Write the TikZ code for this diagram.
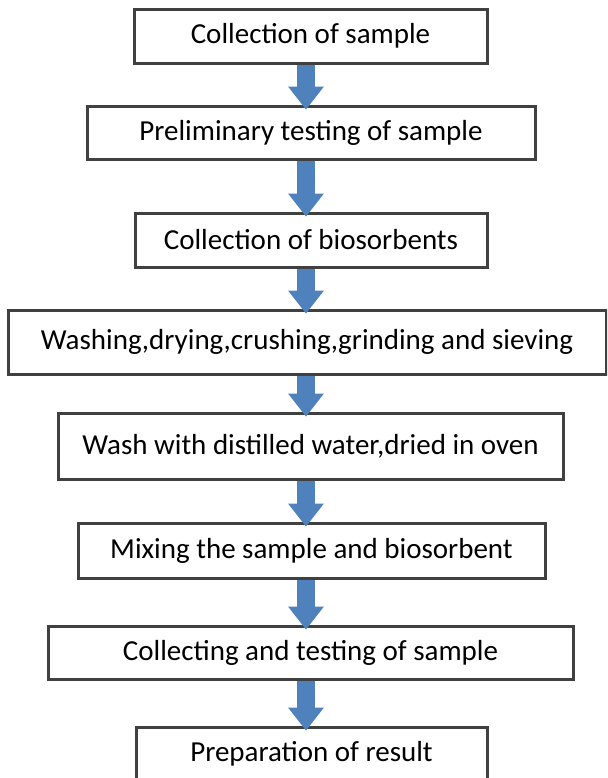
\documentclass[tikz,border=0pt]{standalone}
\usepackage{fontspec}
\setmainfont{Carlito}
\usetikzlibrary{arrows.meta}
\definecolor{boxline}{HTML}{404040}
\definecolor{arrowblue}{HTML}{4F81BD}
\tikzset{
  procbox/.style={draw=boxline, line width=1.5pt, fill=white, inner sep=0pt, minimum height=27pt, font=\fontsize{14.5}{17}\selectfont},
  flow/.style={draw=arrowblue, line width=9pt, -{Triangle[length=11.5pt, width=18pt, line width=0pt]}}
}
\begin{document}
\begin{tikzpicture}[x=0.5pt, y=-0.5pt]
\useasboundingbox (0,0) rectangle (607,778);
\clip (0,0) rectangle (607,778);
\coordinate (ax) at (306,0);

% Sample
\node[procbox, minimum width=176.5pt] (collect) at (310.5,36) {Collection of sample};
\node[procbox, minimum width=224pt, minimum height=26.5pt] (prelim) at (311,132.5) {Preliminary testing of sample};

% Biosorbent preparation
\node[procbox, minimum width=176pt] (bios) at (311,240) {Collection of biosorbents};
\node[procbox, minimum width=299pt, minimum height=32pt] (wash) at (307,342) {Washing,drying,crushing,grinding and sieving};
\node[procbox, minimum width=252.5pt, minimum height=33pt] (oven) at (310.5,446) {Wash with distilled water,dried in oven};

% Treatment and result
\node[procbox, minimum width=233.5pt, minimum height=27.5pt] (mix) at (311.5,550.5) {Mixing the sample and biosorbent};
\node[procbox, minimum width=262.5pt, minimum height=26.5pt] (test) at (310.5,652.5) {Collecting and testing of sample};
\node[procbox, minimum width=175.5pt] (result) at (311.5,754) {Preparation of result};

\draw[flow] (collect.south -| ax) -- ([yshift=-2.5pt]prelim.north -| ax);
\draw[flow] (prelim.south -| ax) -- ([yshift=-2.5pt]bios.north -| ax);
\draw[flow] (bios.south -| ax) -- ([yshift=-2.5pt]wash.north -| ax);
\draw[flow] (wash.south -| ax) -- ([yshift=-2.5pt]oven.north -| ax);
\draw[flow] (oven.south -| ax) -- ([yshift=-2.5pt]mix.north -| ax);
\draw[flow] (mix.south -| ax) -- ([yshift=-2.5pt]test.north -| ax);
\draw[flow] (test.south -| ax) -- ([yshift=-2.5pt]result.north -| ax);
\end{tikzpicture}
\end{document}
